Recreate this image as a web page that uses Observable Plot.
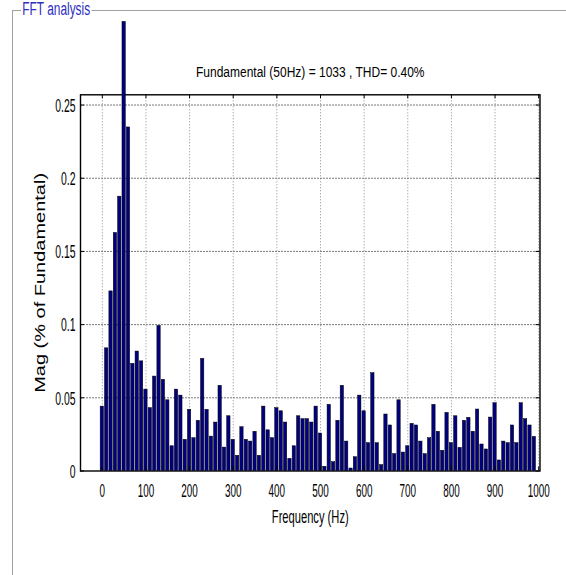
<!DOCTYPE html>
<html><head><meta charset="utf-8">
<script src="https://cdn.jsdelivr.net/npm/d3@7"></script>
<script src="https://cdn.jsdelivr.net/npm/@observablehq/plot@0.6"></script>
<style>
html,body{margin:0;padding:0;background:#fff;}
#wrap{position:relative;width:566px;height:575px;overflow:hidden;font-family:"Liberation Sans",Arial,sans-serif;background:#fff;}
#chart{position:absolute;left:0;top:0;}
#panel{position:absolute;left:12px;top:10px;width:560px;height:570px;border-top:1px solid #a0a0a0;border-left:1px solid #a0a0a0;pointer-events:none;}
#ptitle{position:absolute;left:21px;top:-1px;padding:0 2px;background:#fff;color:#2e2ec0;font-size:18px;line-height:20px;transform:scaleX(0.66);transform-origin:left center;white-space:nowrap;}
</style></head>
<body>
<div id="wrap"><div id="chart"></div><div id="panel"></div><div id="ptitle">FFT analysis</div></div>
<script>
const panelTitle = "FFT analysis";
const subtitle = "Fundamental (50Hz) = 1033 , THD= 0.40%";
const xLabel = "Frequency (Hz)";
const yLabel = "Mag (% of Fundamental)";

const freqs = [0,10,20,30,40,50,60,70,80,90,100,110,120,130,140,150,160,170,180,190,
200,210,220,230,240,250,260,270,280,290,300,310,320,330,340,350,360,370,380,390,
400,410,420,430,440,450,460,470,480,490,500,510,520,530,540,550,560,570,580,590,
600,610,620,630,640,650,660,670,680,690,700,710,720,730,740,750,760,770,780,790,
800,810,820,830,840,850,860,870,880,890,900,910,920,930,940,950,960,970,980,990];

const mags = [0.0440,0.0838,0.1227,0.1626,0.1874,0.3068,0.2347,0.0732,0.0816,0.0749,
0.0556,0.0429,0.0645,0.0991,0.0623,0.0483,0.0169,0.0556,0.0515,0.0213,
0.0418,0.0224,0.0343,0.0766,0.0418,0.0235,0.0331,0.0582,0.0160,0.0374,
0.0213,0.0104,0.0299,0.0213,0.0201,0.0268,0.0104,0.0440,0.0278,0.0224,
0.0429,0.0408,0.0331,0.0083,0.0169,0.0374,0.0354,0.0354,0.0331,0.0440,
0.0256,0.0029,0.0452,0.0060,0.0343,0.0582,0.0201,0.0017,0.0094,0.0515,
0.0408,0.0190,0.0668,0.0190,0.0040,0.0386,0.0311,0.0115,0.0483,0.0126,
0.0169,0.0322,0.0311,0.0201,0.0115,0.0224,0.0452,0.0268,0.0138,0.0397,
0.0190,0.0374,0.0158,0.0343,0.0363,0.0268,0.0420,0.0181,0.0147,0.0365,
0.0463,0.0072,0.0201,0.0190,0.0311,0.0190,0.0463,0.0354,0.0311,0.0233];

const xTicks = [0,100,200,300,400,500,600,700,800,900,1000];
const xTickLabels = ["0","100","200","300","400","500","600","700","800","900","1000"];
const yTicks = [0,0.05,0.1,0.15,0.2,0.25];
const yTickLabels = ["0","0.05","0.1","0.15","0.2","0.25"];

const data = freqs.map((f, i) => ({f, v: mags[i]}));
const W = 566, H = 575, mL = 80, mR = 26.5, mT = 94.3, mB = 104.5;
const fw = W - mL - mR, fh = H - mT - mB;
const font = "Liberation Sans, Arial, sans-serif";

const svg = Plot.plot({
  width: W, height: H,
  marginLeft: mL, marginRight: mR, marginTop: mT, marginBottom: mB,
  style: {background: "transparent", fontFamily: font, color: "#000"},
  x: {domain: [-50, 1003], axis: null},
  y: {domain: [0, 0.257], axis: null},
  marks: [
    Plot.ruleX(xTicks, {x: d => d, stroke: "#8a8a8a", strokeWidth: 1, strokeDasharray: "1,2"}),
    Plot.ruleY(yTicks.slice(1), {y: d => d, stroke: "#7a7a7a", strokeWidth: 1, strokeDasharray: "2,1"}),
    Plot.frame({stroke: "#000", strokeWidth: 1.4}),
    Plot.rectY(data, {x1: d => d.f - 3.8, x2: d => d.f + 3.8, y: "v", fill: "#000080", stroke: "#000", strokeWidth: 0.5}),
    Plot.ruleX(xTicks, {x: d => d, insetTop: fh - 4, stroke: "#000"}),
    Plot.ruleX(xTicks, {x: d => d, insetBottom: fh - 4, stroke: "#000"}),
    Plot.ruleY(yTicks, {y: d => d, insetRight: fw - 4, stroke: "#000"}),
    Plot.ruleY(yTicks, {y: d => d, insetLeft: fw - 4, stroke: "#000"}),
    Plot.text(xTicks, {x: d => d, text: (d, i) => xTickLabels[i], frameAnchor: "bottom", dy: 20, lineAnchor: "middle", fontSize: 18, fill: "#000", ariaDescription: "xticklabels"}),
    Plot.text(yTicks, {y: d => d, text: (d, i) => yTickLabels[i], frameAnchor: "left", dx: -5, dy: 1, textAnchor: "end", lineAnchor: "middle", fontSize: 18, fill: "#000", ariaDescription: "yticklabels"}),
    Plot.text([xLabel], {text: d => d, frameAnchor: "bottom", dy: 46, lineAnchor: "middle", fontSize: 18, fill: "#000", ariaDescription: "xlabel"}),
    Plot.text([yLabel], {text: d => d, frameAnchor: "left", dx: -40, rotate: -90, textAnchor: "middle", lineAnchor: "middle", fontSize: 20, fill: "#000", ariaDescription: "ylabel"}),
    Plot.text([subtitle], {text: d => d, frameAnchor: "top", dy: -23, lineAnchor: "middle", fontSize: 15, fill: "#000", ariaDescription: "subtitle"})
  ]
});

function squash(label, sx, sy) {
  svg.querySelectorAll(`g[aria-description="${label}"] text`).forEach(t => {
    const tr = t.getAttribute("transform");
    if (tr) {
      t.setAttribute("transform", `${tr} scale(${sx},${sy})`);
    } else {
      const x = parseFloat(t.getAttribute("x")) || 0, y = parseFloat(t.getAttribute("y")) || 0;
      t.setAttribute("transform", `translate(${x},${y}) scale(${sx},${sy}) translate(${-x},${-y})`);
    }
  });
}
squash("xticklabels", 0.55, 1);
squash("yticklabels", 0.58, 1);
squash("xlabel", 0.62, 1);
squash("ylabel", 1, 0.7);
squash("subtitle", 0.8, 1);

document.getElementById("chart").appendChild(svg);
</script>
</body></html>
